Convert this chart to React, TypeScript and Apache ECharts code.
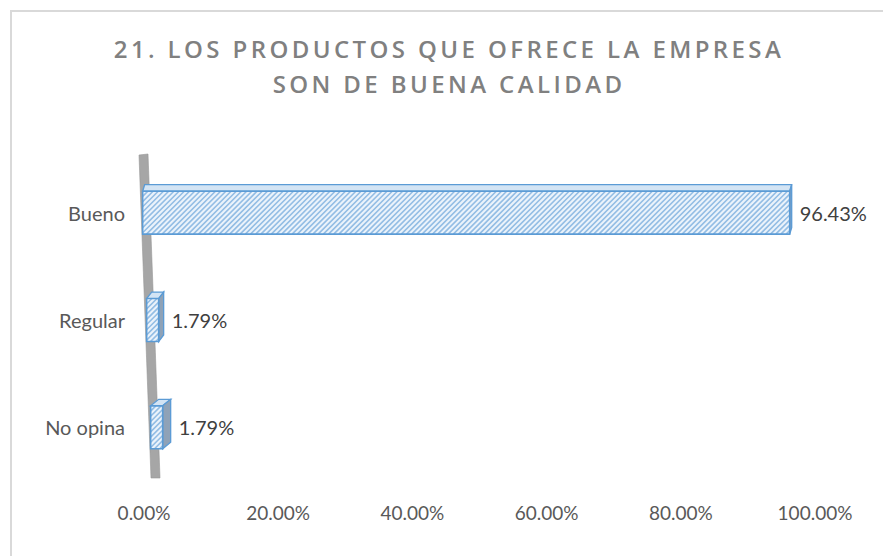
import React, { useEffect, useRef } from "react";
import * as echarts from "echarts";

const categories = ["Bueno", "Regular", "No opina"];
const values = [96.43, 1.79, 1.79];
const xTicks = [0, 20, 40, 60, 80, 100];
const titleLines = ["21. LOS PRODUCTOS QUE OFRECE LA EMPRESA", "SON DE BUENA CALIDAD"];

const FONT = "Lato";
const BLUE = "#5b9bd5";

function hatchPath(xa: number, xb: number, ya: number, yb: number, step: number): string {
  let d = "";
  for (let k = xa + ya; k <= xb + yb; k += step) {
    const lo = Math.max(xa, k - yb);
    const hi = Math.min(xb, k - ya);
    if (hi - lo > 0.3) {
      d += `M${lo.toFixed(2)} ${(k - lo).toFixed(2)}L${hi.toFixed(2)} ${(k - hi).toFixed(2)}`;
    }
  }
  return d || "M0 0";
}

export default function App() {
  const ref = useRef<HTMLDivElement>(null);
  useEffect(() => {
    if (!ref.current) return;
    const el = ref.current;
    const chart = echarts.init(el, null, { renderer: "svg" });
    const option: any = {
      animation: false,
      backgroundColor: "#ffffff",
      textStyle: { fontFamily: FONT },
      graphic: [
        {
          type: "rect",
          shape: { x: 11, y: 11, width: 1000, height: 1000 },
          style: { fill: "none", stroke: "#d9d9d9", lineWidth: 2 },
          silent: true,
        },
        {
          type: "text",
          x: 449,
          y: 66,
          style: {
            text: titleLines.join("\n"),
            align: "center",
            verticalAlign: "middle",
            fill: "#808080",
            font: `600 24px "Open Sans"`,
            lineHeight: 35,
          },
        },
      ],
      grid: { left: 144, right: 68, top: 159, bottom: 75, containLabel: false },
      xAxis: {
        type: "value",
        min: 0,
        max: 100,
        interval: 20,
        axisLine: { show: false },
        axisTick: { show: false },
        splitLine: { show: false },
        axisLabel: {
          color: "#595959",
          fontSize: 19,
          fontFamily: FONT,
          margin: 22,
          formatter: (v: number) => (xTicks.includes(v) ? v.toFixed(2) + "%" : ""),
        },
      },
      yAxis: {
        type: "category",
        data: categories,
        inverse: true,
        axisLine: { show: false },
        axisTick: { show: false },
        axisLabel: { color: "#595959", fontSize: 20, fontFamily: FONT, margin: 19 },
      },
      series: [
        {
          type: "custom",
          z: 1,
          silent: true,
          data: [[0, 0]],
          renderItem: (params: any) => {
            const cs = params.coordSys;
            const x = cs.x;
            const y = cs.y;
            const h = cs.height;
            return {
              type: "polygon",
              shape: {
                points: [
                  [x - 5, y - 4],
                  [x + 4, y - 5],
                  [x + 16, y + h - 3],
                  [x + 7, y + h - 3],
                ],
              },
              style: { fill: "#a6a6a6", stroke: "#979797", lineWidth: 0.6 },
            };
          },
        },
        {
          type: "custom",
          z: 3,
          silent: true,
          data: values.map((v, i) => [v, i]),
          encode: { x: 0, y: 1 },
          renderItem: (params: any, api: any) => {
            const cs = params.coordSys;
            const v = api.value(0);
            const c = api.value(1);
            const base = api.coord([0, c]);
            const end = api.coord([v, c]);
            const band = api.size([0, 1])[1];
            const len = end[0] - base[0];
            const cy = base[1];
            const wallLeft = cs.x - 4 + ((cy - (cs.y - 4)) * 12) / cs.height;
            const x0 = wallLeft + 0.5;
            const x1 = x0 + len;
            const bh = band * 0.4;
            const top = cy - bh / 2;
            const bot = cy + bh / 2;
            const firstCy = cs.y + band / 2;
            const dx = 2 + (cy - firstCy) * 0.028;
            const dy = 6.5;
            return {
              type: "group",
              children: [
                {
                  type: "polygon",
                  shape: {
                    points: [
                      [x0, top],
                      [x1, top],
                      [x1 + dx, top - dy],
                      [x0 + dx, top - dy],
                    ],
                  },
                  style: { fill: "#d3e4f4", stroke: BLUE, lineWidth: 1.3 },
                },
                {
                  type: "polygon",
                  shape: {
                    points: [
                      [x1, top],
                      [x1 + dx, top - dy],
                      [x1 + dx, bot - dy],
                      [x1, bot],
                    ],
                  },
                  style: { fill: "#8fa2b7", stroke: BLUE, lineWidth: 1.3 },
                },
                {
                  type: "rect",
                  shape: { x: x0, y: top, width: len, height: bh },
                  style: { fill: "#ebf3fb", stroke: "none" },
                },
                {
                  type: "path",
                  shape: { pathData: hatchPath(x0, x1, top, bot, 5.2) },
                  style: { fill: "none", stroke: "#93bde4", lineWidth: 1.6 },
                },
                {
                  type: "rect",
                  shape: { x: x0, y: top, width: len, height: bh },
                  style: { fill: "none", stroke: BLUE, lineWidth: 1.6 },
                },
                {
                  type: "text",
                  x: x1 + dx + 8,
                  y: cy,
                  style: {
                    text: v.toFixed(2) + "%",
                    fill: "#404040",
                    font: `20px ${FONT}`,
                    align: "left",
                    verticalAlign: "middle",
                  },
                },
              ],
            };
          },
        },
      ],
    };
    chart.setOption(option);
    const spaceTitle = () => {
      el.querySelectorAll("text").forEach((t) => {
        const s = t.textContent || "";
        if (titleLines.some((l) => s.includes(l))) {
          (t as SVGTextElement).style.letterSpacing = "3.4px";
        }
      });
    };
    spaceTitle();
    chart.on("finished", spaceTitle);
    const raf = requestAnimationFrame(spaceTitle);
    return () => {
      cancelAnimationFrame(raf);
      chart.dispose();
    };
  }, []);
  return (
    <div
      ref={ref}
      style={{ position: "absolute", left: 0, top: 0, width: 883, height: 556 }}
    />
  );
}
